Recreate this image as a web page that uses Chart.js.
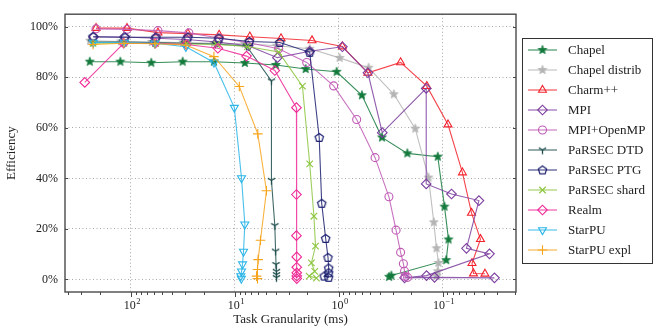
<!DOCTYPE html>
<html>
<head>
<meta charset="utf-8">
<script src="https://cdn.jsdelivr.net/npm/chart.js@4/dist/chart.umd.min.js"></script>
<style>
  html, body { margin: 0; padding: 0; background: #fff; }
  #wrap { width: 654px; height: 331px; position: relative; }
</style>
</head>
<body>
<div id="wrap"><canvas id="chart"></canvas></div>
<script>
// Task granularity (ms) and efficiency (%) per system
const chapelMs  = [249.5, 126.7, 63.8, 31.8, 15.9, 8.01, 4.03, 2.08, 1.045, 0.597, 0.383, 0.218, 0.111, 0.0957, 0.0875, 0.0921, 0.311, 0.327];
const chapelEff = [86.2, 86.2, 85.8, 86.2, 86.2, 85.7, 84.9, 83.3, 82.2, 72.9, 56.2, 49.9, 48.6, 28.8, 15.8, 7.6, 1.5, 1.0];

const chapelDistribMs  = [247.9, 124.8, 62.8, 31.6, 15.9, 8.01, 3.95, 1.90, 0.978, 0.515, 0.294, 0.183, 0.1364, 0.1213, 0.1142, 0.1093, 0.111, 0.1142];
const chapelDistribEff = [94.5, 94.2, 94.0, 93.8, 93.5, 93.3, 92.5, 91.3, 87.7, 83.8, 73.3, 59.7, 40.3, 22.6, 12.3, 6.5, 3.2, 1.3];

const charmMs  = [217, 109.2, 55.0, 28.3, 14.16, 7.17, 3.59, 1.806, 0.921, 0.523, 0.2533, 0.1416, 0.0885, 0.0643, 0.0526, 0.0431, 0.0520, 0.0503, 0.0390];
const charmEff = [99.5, 99.5, 97.7, 97.3, 96.8, 96.1, 95.4, 94.6, 92.2, 81.8, 85.9, 76.5, 61.3, 42.3, 26.3, 15.9, 6.4, 2.3, 2.2];

const mpiMs  = [229.5, 115.5, 58.1, 29.3, 14.73, 7.42, 3.89, 1.90, 0.921, 0.523, 0.380, 0.1435, 0.1435, 0.0819, 0.0446, 0.0588, 0.0353, 0.1425, 0.232, 0.1194, 0.0316];
const mpiEff = [96.0, 96.0, 95.5, 95.0, 94.0, 92.5, 87.8, 90.3, 92.1, 81.8, 58.1, 75.6, 37.8, 33.8, 31.2, 12.3, 10.1, 1.5, 0.6, 0.8, 0.6];

const mpiOmpMs  = [217, 109.2, 55.0, 27.7, 14.25, 7.33, 3.78, 2.03, 1.117, 0.671, 0.446, 0.328, 0.280, 0.2533, 0.238, 0.232, 0.2295, 0.217];
const mpiOmpEff = [99.2, 99.0, 98.5, 97.6, 95.6, 93.7, 91.3, 85.9, 76.6, 63.3, 48.2, 32.7, 19.5, 10.7, 6.2, 3.2, 1.2, 0.8];

const parsecDtdMs  = [239.8, 120.7, 60.8, 30.6, 15.4, 7.72, 4.44, 4.44, 4.12, 4.05, 4.01, 3.97, 3.97, 3.97];
const parsecDtdEff = [94.0, 94.0, 93.8, 93.5, 93.2, 92.4, 78.6, 39.2, 21.3, 11.2, 5.9, 3.2, 1.9, 0.7];

const parsecPtgMs  = [231.9, 114.2, 57.5, 28.3, 14.25, 7.25, 3.69, 1.90, 1.54, 1.457, 1.334, 1.267, 1.248, 1.248, 1.379, 1.248];
const parsecPtgEff = [96.1, 95.9, 95.9, 95.9, 95.5, 94.2, 93.8, 89.9, 56.2, 30.1, 16.2, 8.7, 4.5, 2.6, 1.3, 0.8];

const parsecShardMs  = [231.9, 116.8, 58.1, 29.3, 14.9, 7.55, 3.78, 2.234, 1.90, 1.731, 1.671, 1.83, 1.70, 1.922, 1.638];
const parsecShardEff = [93.5, 93.5, 93.4, 93.2, 93.0, 92.2, 90.0, 76.5, 45.7, 25.0, 13.2, 6.5, 3.2, 1.3, 0.5];

const realmMs  = [278.7, 117.5, 58.4, 29.3, 14.57, 7.72, 4.12, 2.551, 2.551, 2.551, 2.533, 2.533, 2.533, 2.533, 2.533];
const realmEff = [78.0, 93.5, 93.5, 93.0, 91.5, 88.4, 82.7, 68.0, 33.6, 17.3, 8.9, 4.8, 2.6, 1.3, 0.3];

const starpuMs  = [230.4, 115.9, 59.0, 29.6, 15.9, 10.11, 8.62, 8.01, 8.25, 8.43, 8.62, 8.76, 8.66];
const starpuEff = [93.8, 93.8, 93.5, 92.1, 85.9, 68.0, 40.1, 21.8, 11.0, 6.0, 3.2, 1.3, 0.3];

const starpuExplMs  = [231.9, 116.8, 58.8, 29.6, 15.9, 9.05, 6.01, 4.96, 5.66, 5.97, 6.05, 6.18, 6.05];
const starpuExplEff = [93.0, 93.5, 93.3, 92.8, 88.2, 76.4, 57.6, 35.1, 15.5, 7.8, 3.9, 1.3, 0.3];

// Axis ticks
const xMajorTicks  = [100, 10, 1, 0.1];
const xMajorExpLabels = ['2', '1', '0', '\u22121'];
const yTicks = [0, 20, 40, 60, 80, 100];

const SERIF = "'Liberation Serif', 'DejaVu Serif', 'Times New Roman', serif";

// ---- marker images ----
function makeCanvas(size) {
  const c = document.createElement('canvas');
  c.width = size; c.height = size;
  return c;
}
function starMarker(color, r) {
  const s = Math.ceil(r * 2 + 4), c = makeCanvas(s), g = c.getContext('2d');
  const cx = s / 2, cy = s / 2, ri = r * 0.42;
  g.beginPath();
  for (let i = 0; i < 10; i++) {
    const rad = i % 2 === 0 ? r : ri;
    const a = -Math.PI / 2 + i * Math.PI / 5;
    const px = cx + rad * Math.cos(a), py = cy + rad * Math.sin(a);
    i === 0 ? g.moveTo(px, py) : g.lineTo(px, py);
  }
  g.closePath();
  g.fillStyle = color; g.strokeStyle = color; g.lineWidth = 0.8;
  g.fill(); g.stroke();
  return c;
}
function pentagonMarker(color, r) {
  const s = Math.ceil(r * 2 + 4), c = makeCanvas(s), g = c.getContext('2d');
  const cx = s / 2, cy = s / 2 + 0.4;
  g.beginPath();
  for (let i = 0; i < 5; i++) {
    const a = -Math.PI / 2 + i * 2 * Math.PI / 5;
    const px = cx + r * Math.cos(a), py = cy + r * Math.sin(a);
    i === 0 ? g.moveTo(px, py) : g.lineTo(px, py);
  }
  g.closePath();
  g.strokeStyle = color; g.lineWidth = 1.2;
  g.stroke();
  return c;
}
function triYMarker(color, r) {
  const s = Math.ceil(r * 2 + 4), c = makeCanvas(s), g = c.getContext('2d');
  const cx = s / 2, cy = s / 2;
  g.strokeStyle = color; g.lineWidth = 1.3;
  g.beginPath();
  [Math.PI / 2, -Math.PI / 6, -5 * Math.PI / 6].forEach(a => {
    g.moveTo(cx, cy);
    g.lineTo(cx + r * Math.cos(a), cy + r * Math.sin(a));
  });
  g.stroke();
  return c;
}

// ---- series definitions ----
const series = [
  { label: 'Chapel',         ms: chapelMs,        eff: chapelEff,        color: '#137a3c', marker: starMarker('#137a3c', 4.6) },
  { label: 'Chapel distrib', ms: chapelDistribMs, eff: chapelDistribEff, color: '#b4b4b4', marker: starMarker('#b4b4b4', 4.6) },
  { label: 'Charm++',        ms: charmMs,         eff: charmEff,         color: '#f2232d', marker: 'triangle', radius: 4.6 },
  { label: 'MPI',            ms: mpiMs,           eff: mpiEff,           color: '#7d3f9f', marker: 'rectRot', radius: 4.8 },
  { label: 'MPI+OpenMP',     ms: mpiOmpMs,        eff: mpiOmpEff,        color: '#c05ab5', marker: 'circle', radius: 4.0 },
  { label: 'PaRSEC DTD',     ms: parsecDtdMs,     eff: parsecDtdEff,     color: '#1f4e4c', marker: triYMarker('#1f4e4c', 4.2) },
  { label: 'PaRSEC PTG',     ms: parsecPtgMs,     eff: parsecPtgEff,     color: '#1c2070', marker: pentagonMarker('#1c2070', 4.4) },
  { label: 'PaRSEC shard',   ms: parsecShardMs,   eff: parsecShardEff,   color: '#8cc63f', marker: 'crossRot', radius: 4.6 },
  { label: 'Realm',          ms: realmMs,         eff: realmEff,         color: '#ef2a97', marker: 'rectRot', radius: 4.8 },
  { label: 'StarPU',         ms: starpuMs,        eff: starpuEff,        color: '#2bb5e8', marker: 'triangle', radius: 4.6, rotation: 180 },
  { label: 'StarPU expl',    ms: starpuExplMs,    eff: starpuExplEff,    color: '#f7a41d', marker: 'cross', radius: 4.8 }
];

function withAlpha(hex, a) {
  const n = parseInt(hex.slice(1), 16);
  return `rgba(${(n >> 16) & 255},${(n >> 8) & 255},${n & 255},${a})`;
}

const datasets = series.map((s, i) => ({
  label: s.label,
  data: s.ms.map((v, k) => ({ x: v, y: s.eff[k] })),
  borderColor: withAlpha(s.color, 0.85),
  borderWidth: 1.1,
  pointStyle: s.marker,
  pointRadius: s.radius || 4.5,
  pointHoverRadius: s.radius || 4.5,
  pointRotation: s.rotation || 0,
  pointBorderColor: s.color,
  pointBackgroundColor: 'rgba(255,255,255,0)',
  pointBorderWidth: 1.1,
  tension: 0,
  fill: false,
  order: series.length - i
}));

// frame, tick marks, exponent tick labels and the boxed legend
const decorations = {
  id: 'decorations',
  afterDraw(chart) {
    const { ctx, chartArea: a, scales: { x, y } } = chart;
    ctx.save();

    // x tick marks below the frame
    ctx.strokeStyle = '#333';
    ctx.lineWidth = 0.9;
    x.ticks.forEach(t => {
      const px = Math.round(x.getPixelForValue(t.value)) + 0.5;
      const len = t.major ? 5 : 3;
      ctx.beginPath();
      ctx.moveTo(px, a.bottom);
      ctx.lineTo(px, a.bottom + len);
      ctx.stroke();
    });
    // y tick marks inside on both sides
    y.ticks.forEach(t => {
      const py = Math.round(y.getPixelForValue(t.value)) + 0.5;
      ctx.beginPath();
      ctx.moveTo(a.left, py); ctx.lineTo(a.left + 3, py);
      ctx.moveTo(a.right, py); ctx.lineTo(a.right - 3, py);
      ctx.stroke();
    });

    // frame
    ctx.strokeStyle = '#4a4a4a';
    ctx.lineWidth = 1.4;
    ctx.strokeRect(a.left, a.top, a.right - a.left, a.bottom - a.top);

    // x labels: 10 with superscript exponent
    ctx.fillStyle = '#222';
    ctx.textBaseline = 'alphabetic';
    xMajorTicks.forEach((v, i) => {
      const px = x.getPixelForValue(v);
      ctx.font = `12px ${SERIF}`;
      const wBase = ctx.measureText('10').width;
      ctx.font = `8.5px ${SERIF}`;
      const wExp = ctx.measureText(xMajorExpLabels[i]).width;
      const x0 = px - (wBase + wExp) / 2 + 1;
      ctx.font = `12px ${SERIF}`;
      ctx.textAlign = 'left';
      ctx.fillText('10', x0, a.bottom + 17);
      ctx.font = `8.5px ${SERIF}`;
      ctx.fillText(xMajorExpLabels[i], x0 + wBase + 0.5, a.bottom + 11.5);
    });

    // legend
    const lx = 522.5, ly = 38.5, lw = 130, lh = 225;
    ctx.fillStyle = '#fff';
    ctx.fillRect(lx, ly, lw, lh);
    ctx.strokeStyle = '#333';
    ctx.lineWidth = 1;
    ctx.strokeRect(lx, ly, lw, lh);
    chart.data.datasets.forEach((ds, i) => {
      const s = series[i];
      const cy = 50 + i * 20;
      ctx.strokeStyle = withAlpha(s.color, 0.85);
      ctx.lineWidth = 1.1;
      ctx.beginPath();
      ctx.moveTo(528, cy); ctx.lineTo(557, cy);
      ctx.stroke();
      ctx.strokeStyle = s.color;
      ctx.fillStyle = 'rgba(255,255,255,0)';
      ctx.lineWidth = 1.1;
      Chart.helpers.drawPoint(ctx, {
        pointStyle: s.marker,
        radius: s.radius || 4.5,
        rotation: s.rotation || 0,
        borderWidth: 1.1
      }, 542.5, cy);
      ctx.fillStyle = '#222';
      ctx.font = `13px ${SERIF}`;
      ctx.textAlign = 'left';
      ctx.textBaseline = 'middle';
      ctx.fillText(s.label, 568, cy + 0.5);
    });
    ctx.restore();
  }
};

new Chart(document.getElementById('chart'), {
  type: 'line',
  data: { datasets },
  options: {
    responsive: true,
    maintainAspectRatio: false,
    animation: false,
    events: [],
    layout: { padding: { left: 0, right: 138, top: 10, bottom: 0 } },
    plugins: { legend: { display: false }, tooltip: { enabled: false } },
    scales: {
      x: {
        type: 'logarithmic',
        reverse: true,
        min: 0.0196,
        max: 432,
        afterBuildTicks(scale) {
          const ticks = [];
          for (let e = -2; e <= 2; e++) {
            for (let m = 1; m <= 9; m++) {
              const v = m * Math.pow(10, e);
              if (v >= scale.min && v <= scale.max) ticks.push({ value: v, major: m === 1 });
            }
          }
          scale.ticks = ticks;
        },
        afterFit(scale) { scale.height = 39; },
        ticks: { display: false, autoSkip: false },
        grid: {
          drawTicks: false,
          color: ctx => (ctx.tick && ctx.tick.major) ? '#a8a8a8' : 'rgba(0,0,0,0)',
          lineWidth: 1
        },
        border: { display: false, dash: [1, 2.5] },
        title: {
          display: true,
          text: 'Task Granularity (ms)',
          color: '#222',
          font: { family: SERIF, size: 13 },
          padding: { top: 0, bottom: 4 }
        }
      },
      y: {
        min: -5,
        max: 105,
        afterBuildTicks(scale) { scale.ticks = yTicks.map(v => ({ value: v })); },
        afterFit(scale) { scale.width = 65; },
        ticks: {
          callback: v => v + '%',
          color: '#222',
          padding: 7,
          font: { family: SERIF, size: 12 }
        },
        grid: { drawTicks: false, color: '#a8a8a8', lineWidth: 1 },
        border: { display: false, dash: [1, 2.5] },
        title: {
          display: true,
          text: 'Efficiency',
          color: '#222',
          font: { family: SERIF, size: 13 },
          padding: { top: 4, bottom: 0 }
        }
      }
    }
  },
  plugins: [decorations]
});
</script>
</body>
</html>
